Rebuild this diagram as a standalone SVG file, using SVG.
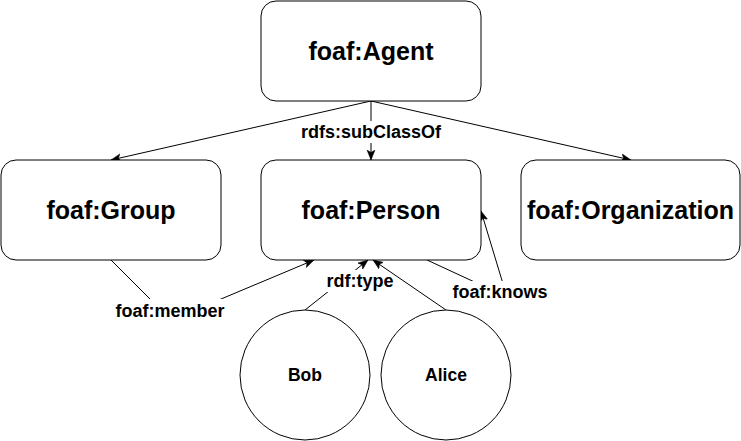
<svg xmlns="http://www.w3.org/2000/svg" width="741" height="441" viewBox="0 0 741 441">
  <defs>
    <style>
      .box { fill: #ffffff; stroke: #000000; stroke-width: 1; }
      .lbl { font-family: "Liberation Sans", Arial, sans-serif; font-weight: bold; fill: #000000; text-anchor: middle; }
      .big { font-size: 25px; }
      .small { font-size: 18px; }
      .name { font-size: 17.5px; }
      .edge { fill: none; stroke: #000000; stroke-width: 1; }
      .bg { fill: #ffffff; stroke: none; }
    </style>
    <marker id="arrow" markerUnits="userSpaceOnUse" markerWidth="12" markerHeight="10" refX="10" refY="4" orient="auto">
      <path d="M0,0 L10,4 L0,8 L2.5,4 z" fill="#000000" stroke="#000000" stroke-width="0.5"/>
    </marker>
  </defs>
  <rect width="741" height="441" fill="#ffffff"/>

  <g id="connectors">
    <line class="edge" x1="371" y1="101" x2="111" y2="160" marker-end="url(#arrow)"/>
    <line class="edge" x1="371" y1="101" x2="371" y2="160" marker-end="url(#arrow)"/>
    <line class="edge" x1="371" y1="101" x2="631" y2="160" marker-end="url(#arrow)"/>
    <polyline class="edge" points="111,260 171,320 314,260" marker-end="url(#arrow)"/>
    <line class="edge" x1="305" y1="310" x2="368" y2="260" marker-end="url(#arrow)"/>
    <polyline class="edge" points="427,260 507,297 481,211" marker-end="url(#arrow)"/>

    <rect class="bg" x="300" y="121" width="142" height="22"/>
    <text class="lbl small" x="371" y="138">rdfs:subClassOf</text>

    <rect class="bg" x="114" y="299" width="113" height="23"/>
    <text class="lbl small" x="170" y="317">foaf:member</text>

    <rect class="bg" x="327" y="270" width="66" height="22"/>
    <text class="lbl small" x="360" y="287">rdf:type</text>

    <rect class="bg" x="452" y="281" width="97" height="22"/>
    <text class="lbl small" x="500" y="298">foaf:knows</text>

    <line class="edge" x1="446" y1="310" x2="373" y2="260" marker-end="url(#arrow)"/>
  </g>

  <g id="agent">
    <rect class="box" x="261" y="1" width="220" height="100" rx="15" ry="15"/>
    <text class="lbl big" x="371" y="60">foaf:Agent</text>
  </g>
  <g id="group">
    <rect class="box" x="1" y="160" width="220" height="100" rx="15" ry="15"/>
    <text class="lbl big" x="111" y="219">foaf:Group</text>
  </g>
  <g id="person">
    <rect class="box" x="261" y="160" width="220" height="100" rx="15" ry="15"/>
    <text class="lbl big" x="371" y="219">foaf:Person</text>
  </g>
  <g id="organization">
    <rect class="box" x="521" y="160" width="219" height="100" rx="15" ry="15"/>
    <text class="lbl big" x="630.5" y="219">foaf:Organization</text>
  </g>
  <g id="bob">
    <circle class="box" cx="305" cy="375" r="65"/>
    <text class="lbl name" x="305" y="381">Bob</text>
  </g>
  <g id="alice">
    <circle class="box" cx="446" cy="375" r="65"/>
    <text class="lbl name" x="446" y="381">Alice</text>
  </g>
</svg>
